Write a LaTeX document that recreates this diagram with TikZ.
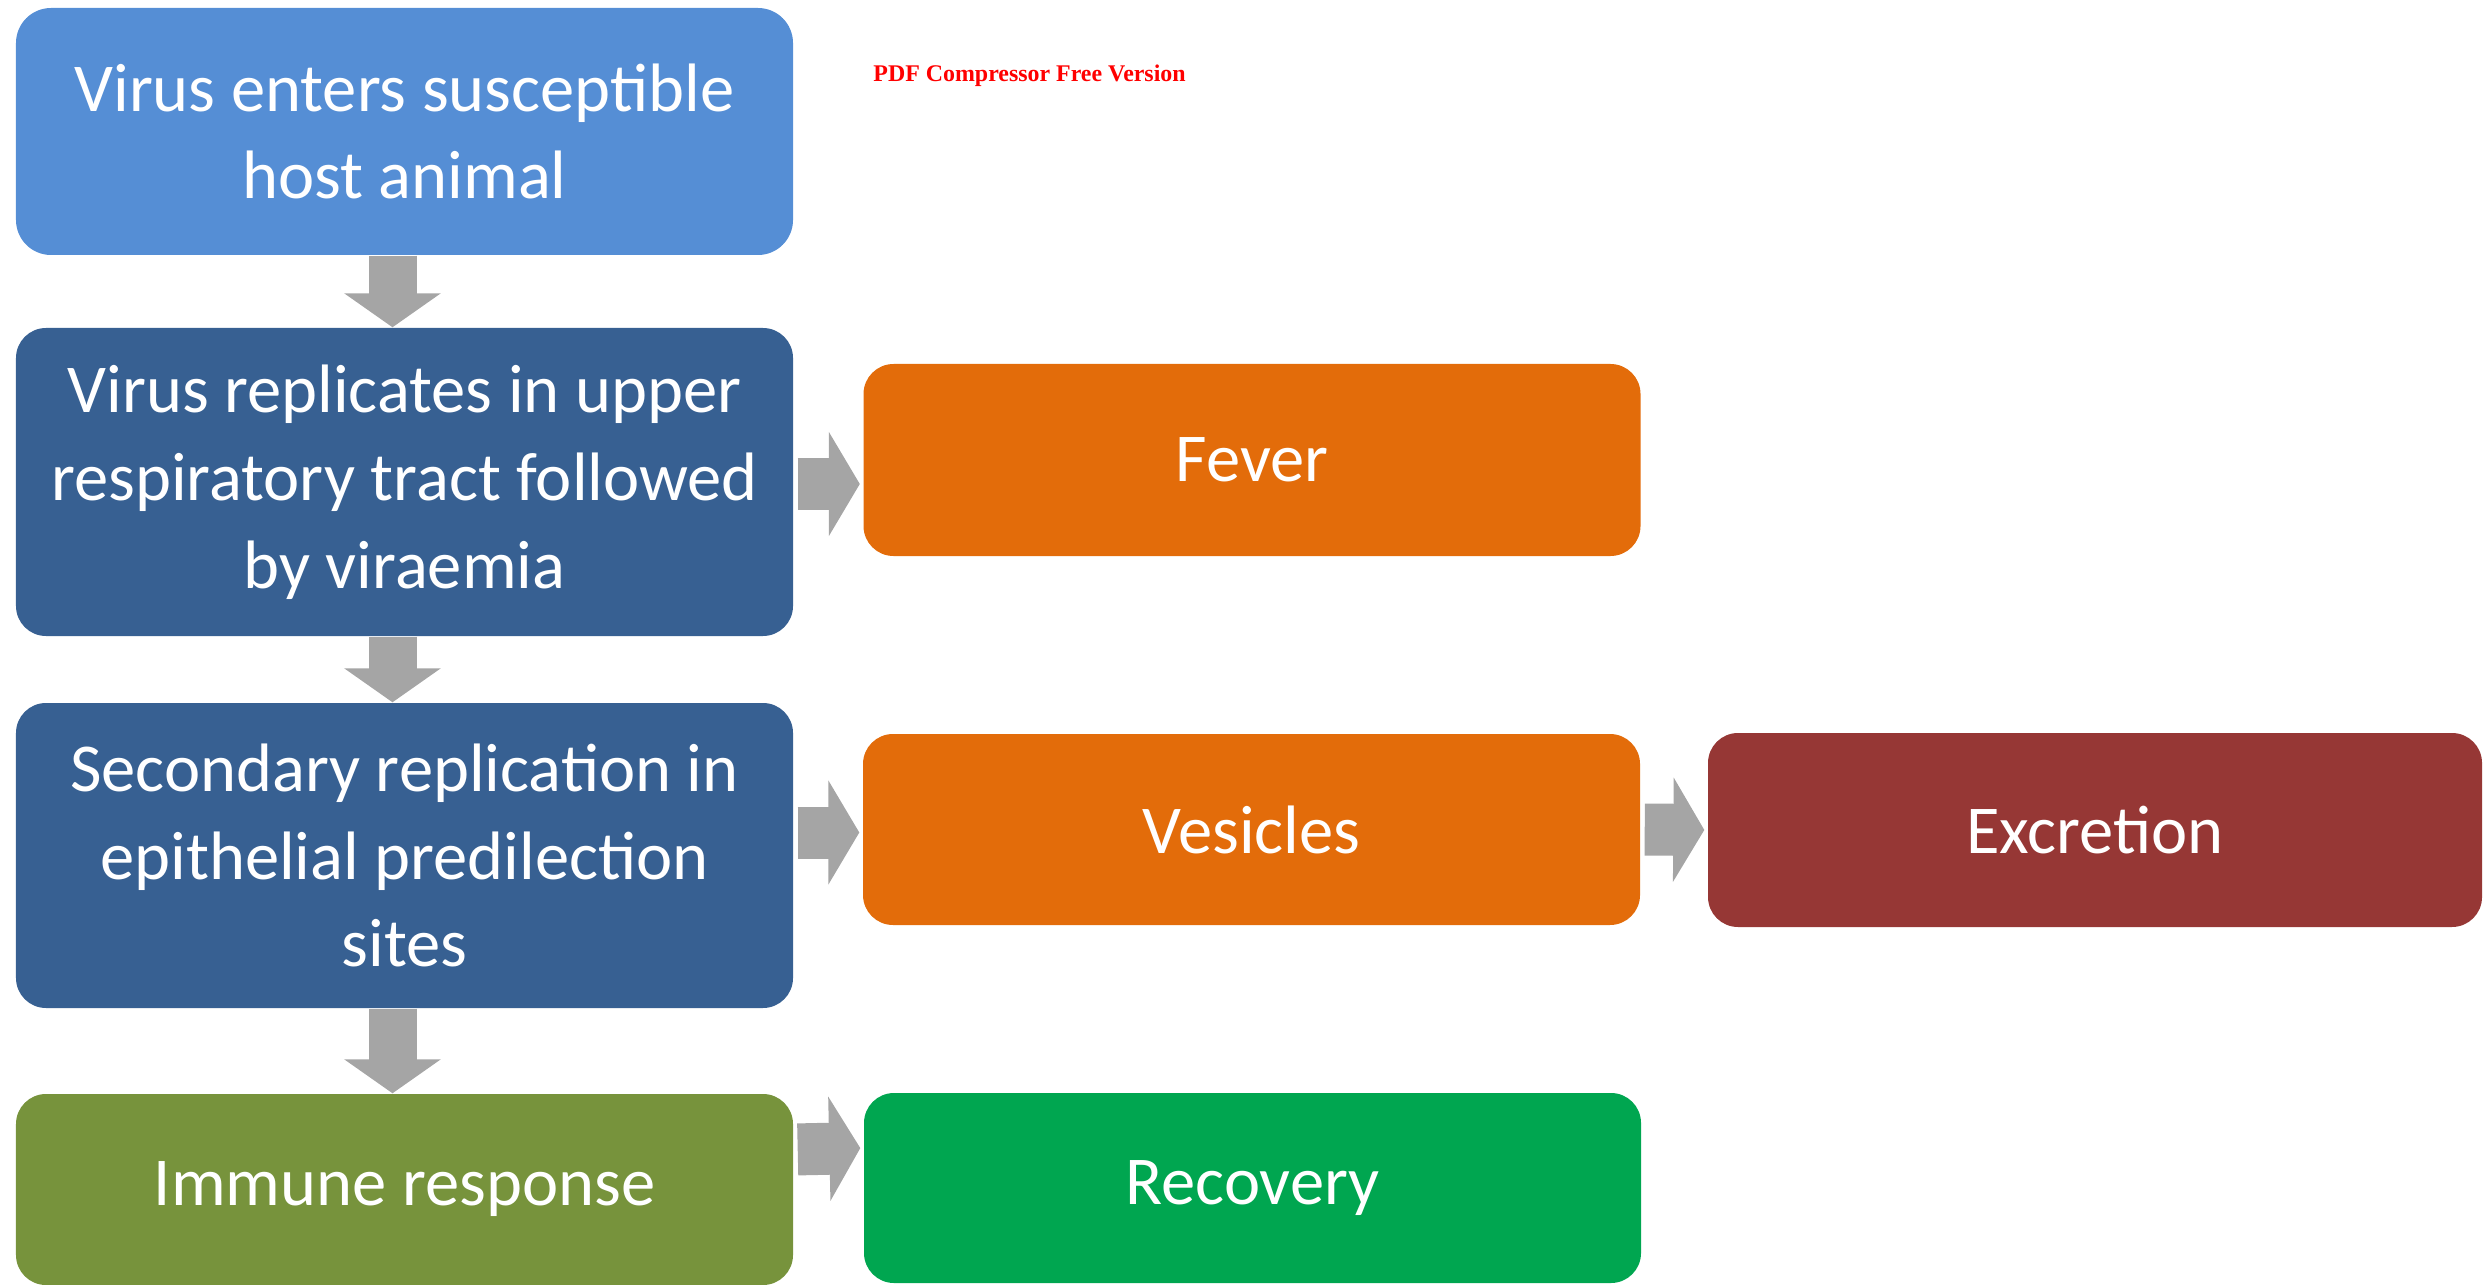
\documentclass[tikz,border=0pt]{standalone}
\usepackage{fontspec}
\setmainfont{Carlito}
\newfontfamily\wmfont{Liberation Serif}
\usepackage{tikz}
\usetikzlibrary{calc,positioning,arrows.meta}
\definecolor{hostblue}{RGB}{85,142,213}
\definecolor{replblue}{RGB}{55,96,146}
\definecolor{signorange}{RGB}{227,108,10}
\definecolor{excrred}{RGB}{150,55,53}
\definecolor{immolive}{RGB}{119,147,60}
\definecolor{recgreen}{RGB}{0,166,80}
\definecolor{flowgrey}{RGB}{165,165,165}
\tikzset{
  sbox/.style={rounded corners=0.3cm, minimum width=7.77cm,
               inner sep=0pt, align=center, text=white,
               font=\fontsize{19.5pt}{25pt}\selectfont},
  sbox host/.style={sbox, fill=hostblue, rounded corners=0.35cm},
  sbox repl/.style={sbox, fill=replblue},
  sbox sign/.style={sbox, fill=signorange},
  sbox excr/.style={sbox, fill=excrred},
  sbox imm/.style={sbox, fill=immolive},
  sbox rec/.style={sbox, fill=recgreen},
  flow down/.style={draw=flowgrey, line width=0.48cm,
                    -{Triangle[length=0.34cm,width=0.95cm]}},
  flow right/.style={draw=flowgrey, line width=0.52cm,
                     shorten <=0.04cm, shorten >=0.03cm,
                     -{Triangle[length=0.31cm,width=1.03cm]}},
}
\begin{document}
\begin{tikzpicture}
\useasboundingbox (0,0) rectangle (24.86,-12.85);
% Left column: the course of infection, top to bottom
\node[sbox host, minimum height=2.47cm] (host) at (4.045,-1.315)
  {Virus enters susceptible\\host animal};
\node[sbox repl, minimum height=3.08cm] (repl) at (4.045,-4.82)
  {Virus replicates in upper\\respiratory tract followed\\by viraemia};
\node[sbox repl, minimum height=3.05cm] (second) at (4.045,-8.555)
  {Secondary replication in\\epithelial predilection\\sites};
\node[sbox imm, minimum height=1.91cm] (imm) at (4.045,-11.895)
  {\raisebox{-0.06cm}{Immune response}};
% Right columns: signs and outcome
\node[sbox sign, minimum height=1.92cm] (fever) at (12.52,-4.60) {Fever};
\node[sbox sign, minimum height=1.91cm] (ves) at (12.515,-8.295) {Vesicles};
\node[sbox excr, minimum width=7.74cm, minimum height=1.94cm] (excr)
  at (20.95,-8.30) {Excretion};
\node[sbox rec, minimum height=1.90cm] (rec) at (12.525,-11.88)
  {\raisebox{-0.06cm}{Recovery}};
% watermark left by the converter
\node[font=\wmfont\bfseries\fontsize{6.8pt}{8pt}\selectfont, text=red,
      anchor=west] (wm) at (8.61,-0.76) {PDF Compressor Free Version};
% Block arrows
\foreach \a/\b in {host/repl, repl/second, second/imm}
  \draw[flow down] ([xshift=-0.12cm]\a.south) -- ([xshift=-0.12cm]\b.north);
\draw[flow right] ([yshift=-0.02cm]repl.east) -- ([yshift=-0.02cm]repl.east -| fever.west);
\draw[flow right] ([yshift=-0.03cm]ves.west -| second.east) -- ([yshift=-0.03cm]ves.west);
\draw[flow right] (ves.east) -- (excr.west);
\draw[flow right] ([yshift=0.4cm]imm.east) -- ([yshift=0.4cm]rec.west);
\end{tikzpicture}
\end{document}
